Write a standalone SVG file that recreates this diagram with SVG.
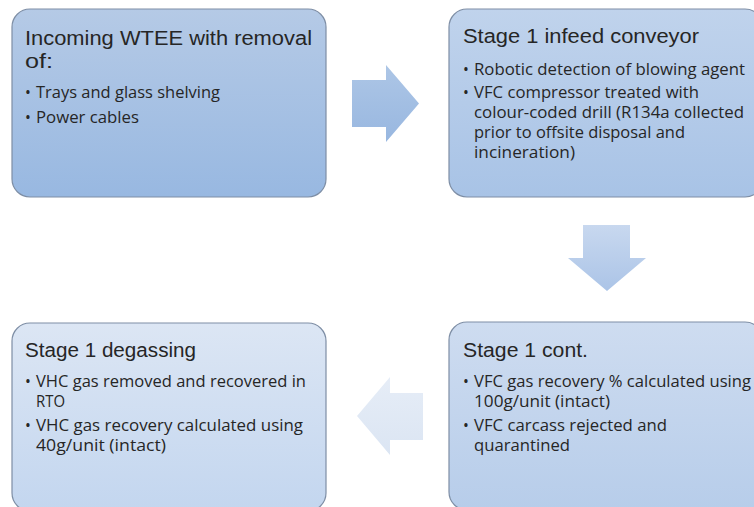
<svg xmlns="http://www.w3.org/2000/svg" width="754" height="507" viewBox="0 0 754 507">
<defs>
<linearGradient id="g1" x1="0" y1="0" x2="0" y2="1"><stop offset="0" stop-color="#b5cae6"/><stop offset="1" stop-color="#98b8e1"/></linearGradient>
<linearGradient id="g2" x1="0" y1="0" x2="0" y2="1"><stop offset="0" stop-color="#c0d3ec"/><stop offset="1" stop-color="#a8c3e6"/></linearGradient>
<linearGradient id="g3" x1="0" y1="0" x2="0" y2="1"><stop offset="0" stop-color="#dce6f4"/><stop offset="1" stop-color="#c3d6ef"/></linearGradient>
<linearGradient id="g4" x1="0" y1="0" x2="0" y2="1"><stop offset="0" stop-color="#cedcf0"/><stop offset="1" stop-color="#b7cdea"/></linearGradient>
<linearGradient id="ga1" x1="0" y1="0" x2="0" y2="1"><stop offset="0" stop-color="#adc6e6"/><stop offset="1" stop-color="#98b7e0"/></linearGradient>
<linearGradient id="ga2" x1="0" y1="0" x2="0" y2="1"><stop offset="0" stop-color="#c8d8ef"/><stop offset="1" stop-color="#abc4e7"/></linearGradient>
<linearGradient id="ga3" x1="0" y1="0" x2="0" y2="1"><stop offset="0" stop-color="#e6edf7"/><stop offset="1" stop-color="#dbe5f3"/></linearGradient>
</defs>
<style>
.box{stroke:#7e8ea5;stroke-width:1.2}
.t{font-family:"Liberation Sans","Open Sans",sans-serif;font-size:20px;fill:#262626}
.b{font-family:"Open Sans","Liberation Sans",sans-serif;font-size:15.5px;fill:#262626}
.arr{stroke:none}
</style>
<rect width="754" height="507" fill="#ffffff"/>
<g id="connectors">
<polygon class="arr" fill="url(#ga1)" points="352,80 386,80 386,65 419,103.5 386,142 386,127 352,127"/>
<polygon class="arr" fill="url(#ga2)" points="583,225 630,225 630,258 646,258 607,291 568,258 583,258"/>
<polygon class="arr" fill="url(#ga3)" points="423,393 390,393 390,377 357,416 390,455 390,440 423,440"/>
</g>
<g id="node1">
<rect class="box" x="12" y="9" width="314" height="188" rx="18" fill="url(#g1)"/>
<text class="t" x="25" y="45" textLength="287" lengthAdjust="spacingAndGlyphs">Incoming WTEE with removal</text>
<text class="t" x="25" y="68" textLength="28" lengthAdjust="spacingAndGlyphs">of:</text>
<text class="b" x="25" y="98">•</text>
<text class="b" x="36" y="98" textLength="184" lengthAdjust="spacingAndGlyphs">Trays and glass shelving</text>
<text class="b" x="25" y="123">•</text>
<text class="b" x="36" y="123" textLength="103" lengthAdjust="spacingAndGlyphs">Power cables</text>
</g>
<g id="node2">
<rect class="box" x="449" y="9" width="314" height="188" rx="18" fill="url(#g2)"/>
<text class="t" x="463" y="43" textLength="236" lengthAdjust="spacingAndGlyphs">Stage 1 infeed conveyor</text>
<text class="b" x="463" y="75">•</text>
<text class="b" x="474" y="75" textLength="271" lengthAdjust="spacingAndGlyphs">Robotic detection of blowing agent</text>
<text class="b" x="463" y="98">•</text>
<text class="b" x="474" y="98" textLength="225" lengthAdjust="spacingAndGlyphs">VFC compressor treated with</text>
<text class="b" x="474" y="118" textLength="270" lengthAdjust="spacingAndGlyphs">colour-coded drill (R134a collected</text>
<text class="b" x="474" y="138" textLength="211" lengthAdjust="spacingAndGlyphs">prior to offsite disposal and</text>
<text class="b" x="474" y="158" textLength="101" lengthAdjust="spacingAndGlyphs">incineration)</text>
</g>
<g id="node3">
<rect class="box" x="12" y="323" width="314" height="188" rx="18" fill="url(#g3)"/>
<text class="t" x="25" y="357" textLength="171" lengthAdjust="spacingAndGlyphs">Stage 1 degassing</text>
<text class="b" x="25" y="387">•</text>
<text class="b" x="36" y="387" textLength="270" lengthAdjust="spacingAndGlyphs">VHC gas removed and recovered in</text>
<text class="b" x="36" y="407" textLength="29" lengthAdjust="spacingAndGlyphs">RTO</text>
<text class="b" x="25" y="431">•</text>
<text class="b" x="36" y="431" textLength="267" lengthAdjust="spacingAndGlyphs">VHC gas recovery calculated using</text>
<text class="b" x="36" y="451" textLength="130" lengthAdjust="spacingAndGlyphs">40g/unit (intact)</text>
</g>
<g id="node4">
<rect class="box" x="449" y="322" width="314" height="188" rx="18" fill="url(#g4)"/>
<text class="t" x="463" y="357" textLength="125" lengthAdjust="spacingAndGlyphs">Stage 1 cont.</text>
<text class="b" x="463" y="387">•</text>
<text class="b" x="474" y="387" textLength="277" lengthAdjust="spacingAndGlyphs">VFC gas recovery % calculated using</text>
<text class="b" x="474" y="407" textLength="136" lengthAdjust="spacingAndGlyphs">100g/unit (intact)</text>
<text class="b" x="463" y="431">•</text>
<text class="b" x="474" y="431" textLength="193" lengthAdjust="spacingAndGlyphs">VFC carcass rejected and</text>
<text class="b" x="474" y="451" textLength="96" lengthAdjust="spacingAndGlyphs">quarantined</text>
</g>
</svg>
